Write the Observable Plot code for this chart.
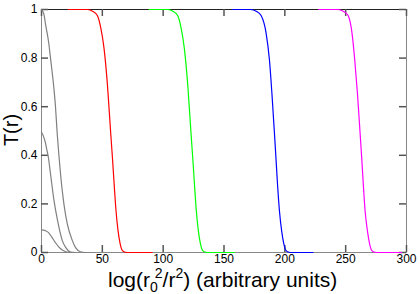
<!DOCTYPE html>
<html><head><meta charset="utf-8">
<script src="https://cdn.jsdelivr.net/npm/d3@7"></script>
<script src="https://cdn.jsdelivr.net/npm/@observablehq/plot@0.6"></script>
<style>html,body{margin:0;padding:0;background:#fff;} svg{display:block}</style>
</head><body><div id="chart"></div>
<script>
// Tick values and labels
const xTicks = [0, 50, 100, 150, 200, 250, 300];
const yTicks = [0, 0.2, 0.4, 0.6, 0.8, 1];
const yTickLabels = ["0", "0.2", "0.4", "0.6", "0.8", "1"];

// Series (x = log(r0^2/r^2), t = T(r))
const seriesNames = ["gray1", "gray2", "gray3", "red", "green", "blue", "magenta"];
const seriesColors = ["#808080", "#808080", "#808080", "#ff0000", "#00ff00", "#0000ff", "#ff00ff"];

const gray1X = [0, 2, 3.3, 6, 7.4, 10.1, 11.5, 12.9, 14.3, 15.7, 18.4, 21.2, 25.3, 28, 32, 36, 40];
const gray1T = [1, 0.98, 0.94, 0.86, 0.8, 0.68, 0.6, 0.49, 0.4, 0.32, 0.2, 0.118, 0.05, 0.02, 0.003, 0, 0];

const gray2X = [0, 1.5, 3.3, 4.5, 5.5, 7.4, 10.1, 12.9, 17.1, 20, 23.9, 28];
const gray2T = [0.495, 0.48, 0.45, 0.42, 0.396, 0.324, 0.22, 0.139, 0.049, 0.02, 0.002, 0];

const gray3X = [0, 3, 5.8, 8.5, 11.3, 14, 16.5, 19.5, 23];
const gray3T = [0.093, 0.09, 0.082, 0.063, 0.042, 0.024, 0.012, 0.004, 0];

const redX = [22, 38, 42, 45.9, 48.6, 51.4, 54.2, 56.9, 58.3, 59.6, 61, 62.9, 64.5, 66.5, 69, 72, 91];
const redT = [1, 1, 0.993, 0.975, 0.927, 0.84, 0.69, 0.49, 0.39, 0.29, 0.186, 0.09, 0.04, 0.008, 0.001, 0, 0];

const greenX = [88.5, 104, 108, 111.9, 114.6, 117.4, 120.2, 122.9, 124.3, 125.6, 127, 128.9, 130.5, 132.5, 135, 138, 158.5];
const greenT = [1, 1, 0.993, 0.975, 0.927, 0.84, 0.69, 0.49, 0.39, 0.29, 0.186, 0.09, 0.04, 0.008, 0.001, 0, 0];

const blueX = [157.2, 172, 176.5, 180.5, 184.7, 187.4, 189.4, 191.6, 192.8, 194, 195.6, 197.5, 199, 201, 203.5, 206, 223.2];
const blueT = [1, 1, 0.993, 0.975, 0.9, 0.79, 0.653, 0.48, 0.38, 0.28, 0.17, 0.085, 0.04, 0.008, 0.001, 0, 0];

const magentaX = [227.8, 243.8, 248, 252, 255.3, 257.5, 259.7, 262, 263.3, 264.5, 266, 268, 269.5, 271.5, 274, 277, 296];
const magentaT = [1, 1, 0.993, 0.975, 0.9, 0.79, 0.653, 0.48, 0.38, 0.28, 0.17, 0.085, 0.04, 0.008, 0.001, 0, 0];

const seriesX = [gray1X, gray2X, gray3X, redX, greenX, blueX, magentaX];
const seriesT = [gray1T, gray2T, gray3T, redT, greenT, blueT, magentaT];

const table = [];
seriesNames.forEach((name, i) => {
  seriesX[i].forEach((x, j) => table.push({series: name, color: seriesColors[i], x, t: seriesT[i][j]}));
});

const W = 420, H = 294, mL = 41, mR = 14, mT = 9, mB = 42;
const innerW = W - mL - mR, innerH = H - mT - mB;
const tickColor = "#555";
const tickLen = 7;

const svg = Plot.plot({
  width: W,
  height: H,
  marginLeft: mL,
  marginRight: mR,
  marginTop: mT,
  marginBottom: mB,
  style: {fontFamily: "'Liberation Sans', Arial, sans-serif", fontSize: "12px", color: "black", background: "white"},
  x: {domain: [0, 300]},
  y: {domain: [0, 1]},
  marks: [
    Plot.frame({stroke: "#888"}),
    Plot.ruleY([1], {stroke: "#222"}),
    Plot.axisX(xTicks, {anchor: "bottom", tickSize: 0, tickPadding: 2, label: null, stroke: "none", fill: "black"}),
    Plot.axisY(yTicks, {anchor: "left", tickSize: 0, tickPadding: 4, label: null, stroke: "none", fill: "black", tickFormat: (d) => yTickLabels[yTicks.indexOf(d)]}),
    // inward ticks on all four sides
    Plot.ruleX(xTicks, {x: d => d, insetTop: innerH - tickLen, stroke: tickColor, strokeWidth: 1.5}),
    Plot.ruleX(xTicks, {x: d => d, insetBottom: innerH - tickLen, stroke: tickColor, strokeWidth: 1.5}),
    Plot.ruleY(yTicks, {y: d => d, insetRight: innerW - tickLen, stroke: tickColor, strokeWidth: 1.5}),
    Plot.ruleY(yTicks, {y: d => d, insetLeft: innerW - tickLen, stroke: tickColor, strokeWidth: 1.5}),
    Plot.line(table, {x: "x", y: "t", z: "series", stroke: "color", strokeWidth: 1.2, curve: "monotone-x"})
  ]
});

const s = d3.select(svg);
const xl = s.append("text")
  .attr("x", 108).attr("y", 287)
  .attr("text-anchor", "start")
  .attr("font-size", 21)
  .attr("fill", "black");
xl.append("tspan").text("log(r");
xl.append("tspan").attr("font-size", 14).attr("dy", 5).text("0");
xl.append("tspan").attr("font-size", 14).attr("dx", -3).attr("dy", -14).text("2");
xl.append("tspan").attr("dy", 9).text("/r");
xl.append("tspan").attr("font-size", 14).attr("dy", -9).text("2");
xl.append("tspan").attr("dy", 9).text(") (arbitrary units)");

s.append("text")
  .attr("transform", "translate(18,130) rotate(-90)")
  .attr("text-anchor", "middle")
  .attr("font-size", 20)
  .attr("fill", "black")
  .text("T(r)");

document.getElementById("chart").appendChild(svg);
</script>
</body></html>
